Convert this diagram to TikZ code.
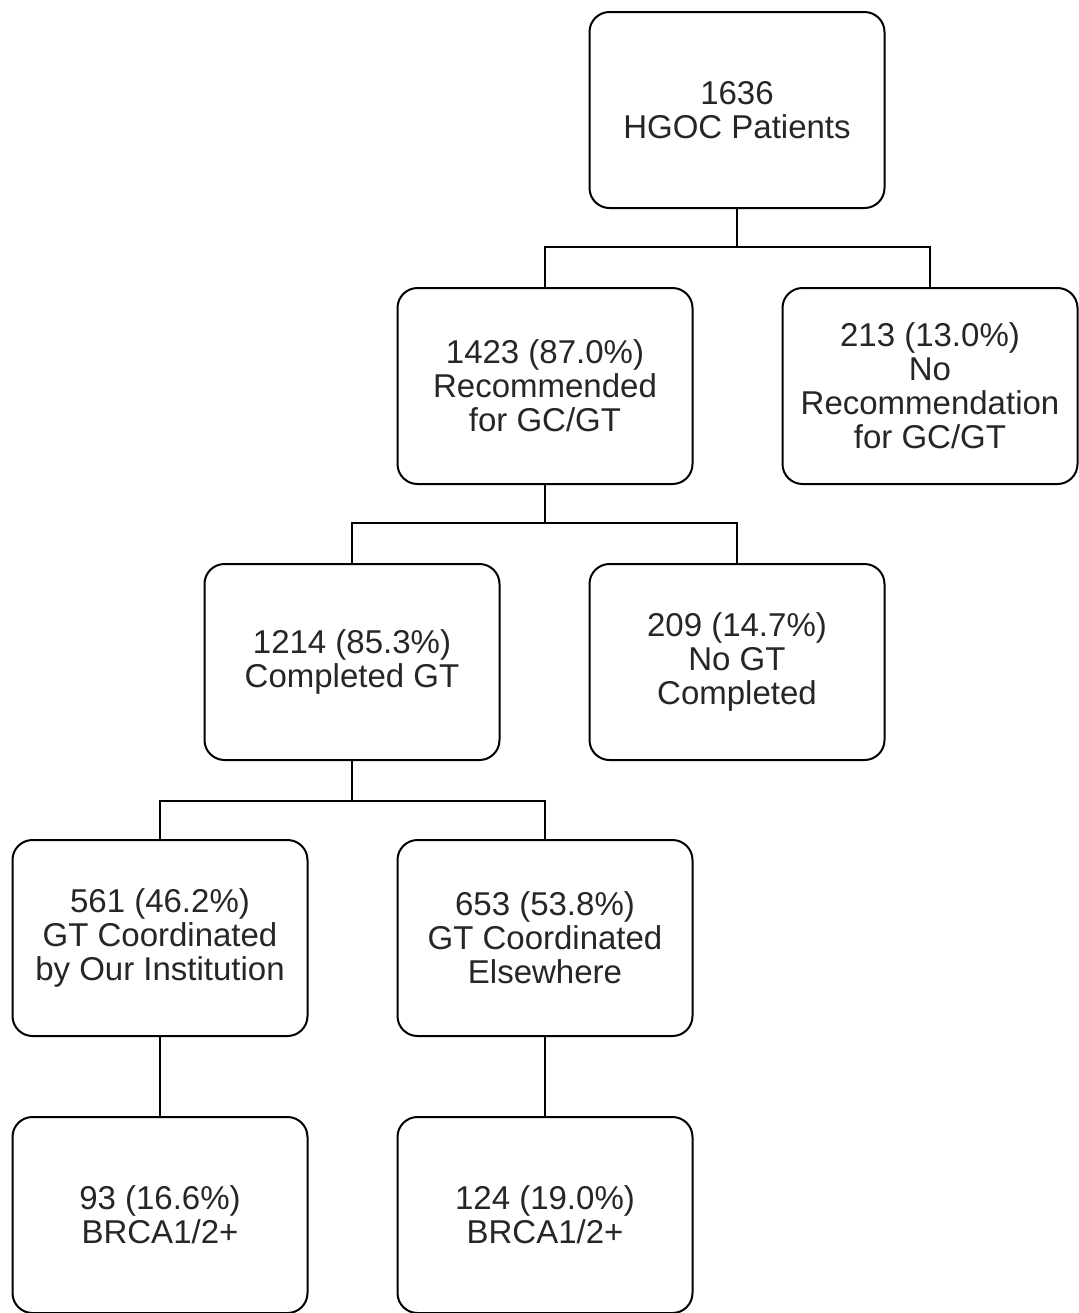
\documentclass[tikz,border=0pt]{standalone}
\usepackage{fontspec}
\setmainfont{Liberation Sans}
\usepackage{tikz}

\begin{document}
\begin{tikzpicture}[x=0.5pt, y=-0.5pt,
	box/.style={rectangle, rounded corners=10pt, draw, line width=1pt, fill=white,
		minimum width=147.5pt, minimum height=98pt, align=center, inner sep=2pt,
		font=\fontsize{16.5}{17}\selectfont, text=black!85},
	link/.style={line width=0.75pt}]
			\useasboundingbox (0,0) rectangle (1079,1313);
			% Boxes
			\node[box] (top) at (737,110) {1636\\HGOC Patients};
			\node[box] (rec) at (545,386) {1423 (87.0\%)\\Recommended\\for GC/GT};
			\node[box] (norec) at (930,386) {213 (13.0\%)\\No\\Recommendation\\for GC/GT};
			\node[box] (done) at (352,662) {1214 (85.3\%)\\Completed GT};
			\node[box] (nogt) at (737,662) {209 (14.7\%)\\No GT\\Completed};
			\node[box] (ours) at (160,938) {561 (46.2\%)\\GT Coordinated\\by Our Institution};
			\node[box] (else) at (545,938) {653 (53.8\%)\\GT Coordinated\\Elsewhere};
			\node[box] (brcaA) at (160,1215) {93 (16.6\%)\\BRCA1/2+};
			\node[box] (brcaB) at (545,1215) {124 (19.0\%)\\BRCA1/2+};
			% Connectors
			\draw[link] (top.south) -- ++(0,38) -| (rec.north);
			\draw[link] (top.south) -- ++(0,38) -| (norec.north);
			\draw[link] (rec.south) -- ++(0,38) -| (done.north);
			\draw[link] (rec.south) -- ++(0,38) -| (nogt.north);
			\draw[link] (done.south) -- ++(0,40) -| (ours.north);
			\draw[link] (done.south) -- ++(0,40) -| (else.north);
			\draw[link] (ours) -- (brcaA);
			\draw[link] (else) -- (brcaB);
		\end{tikzpicture}
\end{document}
